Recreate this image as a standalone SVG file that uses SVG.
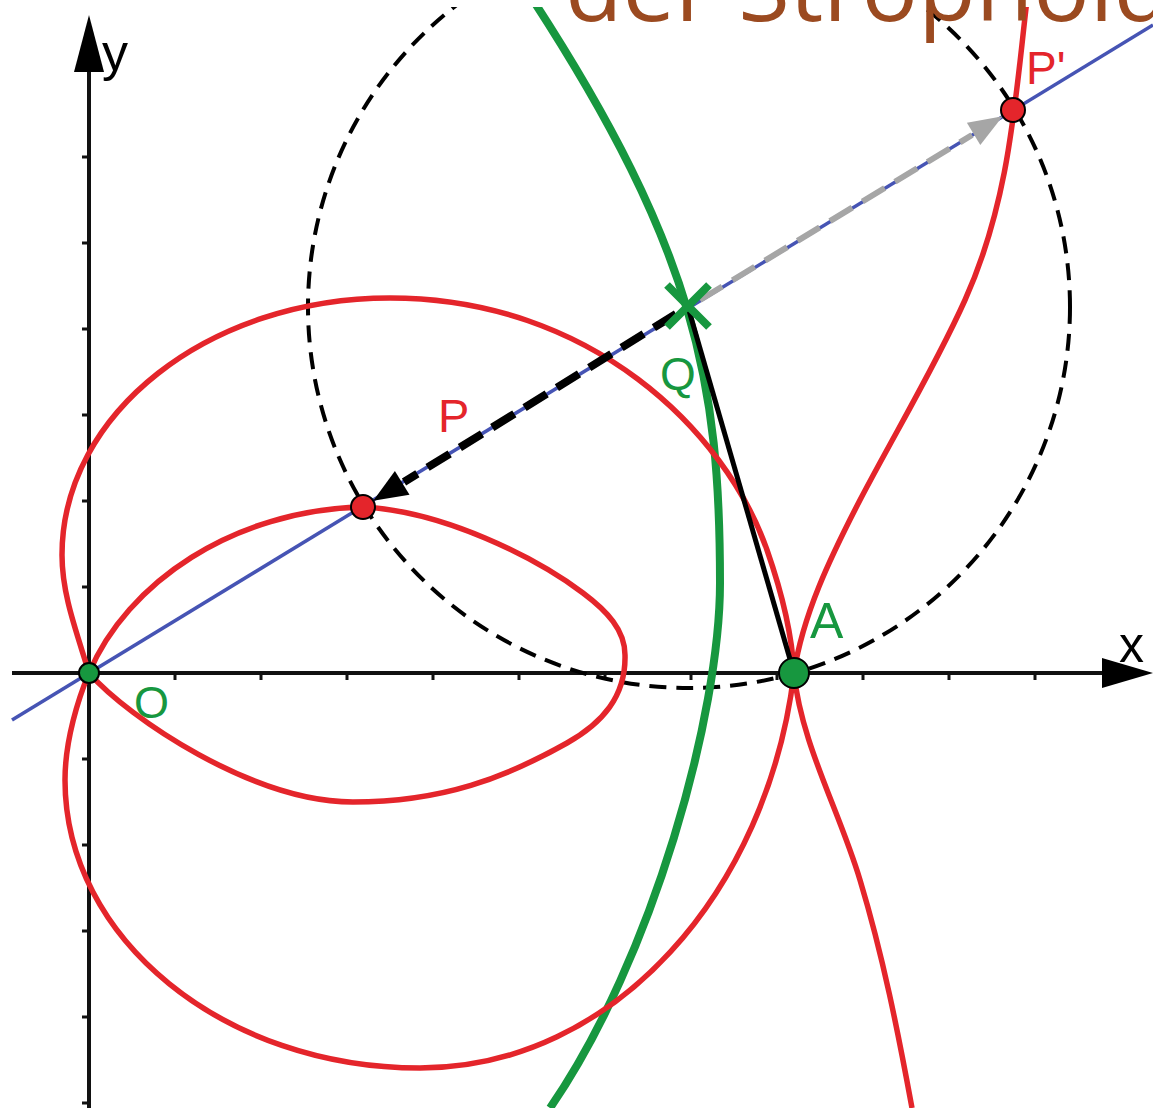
<svg xmlns="http://www.w3.org/2000/svg" width="1153" height="1108" viewBox="0 0 1153 1108">
<style>
.axis{stroke:#111;stroke-width:4;fill:none}
.tick{stroke:#111;stroke-width:3}
.red{stroke:#e4252b;stroke-width:5.5;fill:none;stroke-linejoin:round}
.green{stroke:#17973f;stroke-width:8;fill:none}
.blue{stroke:#4654b4;stroke-width:3.5;fill:none}
.dash{stroke:#000;stroke-width:4;fill:none;stroke-dasharray:17 10}
.lbl{font-family:"Liberation Sans",Arial,sans-serif}
.lg{fill:#17973f}
.lr{fill:#e4252b}
</style>
<rect width="1153" height="1108" fill="#fff"/>
<g id="axes">
<line class="axis" x1="12" y1="673" x2="1105" y2="673"/>
<polygon points="1153,673 1102,658 1102,688" fill="#000"/>
<line class="axis" x1="89" y1="1108" x2="89" y2="68"/>
<polygon points="89,15 74,72 104,72" fill="#000"/>
<path class="tick" d="M175,673v7M261,673v7M347,673v7M433,673v7M519,673v7M605,673v7M691,673v7M777,673v7M863,673v7M949,673v7M1035,673v7M89,157h-7M89,243h-7M89,329h-7M89,415h-7M89,501h-7M89,587h-7M89,759h-7M89,845h-7M89,931h-7M89,1017h-7M89,1103h-7"/>
<text class="lbl" x="102" y="70" font-size="52" fill="#000">y</text>
<text class="lbl" x="1119" y="662" font-size="50" fill="#000">x</text>
</g>
<g id="connectors">
<line class="blue" x1="12" y1="720" x2="1153" y2="25"/>
<circle class="dash" cx="689" cy="307" r="381"/>
<path id="green-curve" class="green" d="M533,0 C695.5,250 720,383 720,583 C720,713 653.5,958 550,1108"/>
<path id="strophoid" class="red" d="M1027,0 C1015,100 1010,200 965,300 C935,367 895,433 860,500 C830,558 802.7,615 794,673 C768,890 615,1068 420,1068 C224,1068 65,939 65,780 C65,740 78.5,698 89,673 C127,583 233,510 363,507 C443,511 535,557 583,593 C607,611 625,630 625,655 C626,697 601.8,723.4 567,743 C506,777.3 443,802 353,802 C253,802 128.6,718 89,673 C77,633 62,595 62,555 C62,413 209,298 390,298 C590,298 725,430 767,550 C781,590 792,633 794,673 C801,743 839,810 860,880 C883,956 898,1032 912,1108"/>
<line x1="688" y1="307" x2="794" y2="673" stroke="#000" stroke-width="5"/>
<line x1="676" y1="314" x2="404" y2="482" stroke="#000" stroke-width="8" stroke-dasharray="26 12"/>
<polygon points="373.2,500.7 409.5,494.8 394.9,471" fill="#000"/>
<line x1="700" y1="300" x2="972" y2="135" stroke="#a6a6a6" stroke-width="6" stroke-dasharray="26 12"/>
<polygon points="1002.7,116.2 980.3,144.9 966.9,122.7" fill="#a6a6a6"/>
</g>
<g id="node-Q">
<path d="M667,285L709,327M709,285L667,327" stroke="#17973f" stroke-width="8"/>
<text class="lbl lg" x="660" y="390" font-size="46">Q</text>
</g>
<g id="node-O">
<circle cx="89" cy="673" r="10" fill="#17973f" stroke="#000" stroke-width="2"/>
<text class="lbl lg" x="134" y="718" font-size="45">O</text>
</g>
<g id="node-A">
<circle cx="794" cy="673" r="15" fill="#17973f" stroke="#000" stroke-width="2"/>
<text class="lbl lg" x="810" y="638" font-size="50">A</text>
</g>
<g id="node-P">
<circle cx="363" cy="507" r="12" fill="#e4252b" stroke="#000" stroke-width="2"/>
<text class="lbl lr" x="438" y="432" font-size="47">P</text>
</g>
<g id="node-P2">
<circle cx="1013" cy="110" r="12" fill="#e4252b" stroke="#000" stroke-width="2"/>
<text class="lbl lr" x="1026" y="84" font-size="46">P'</text>
</g>
<g id="title">
<rect x="0" y="0" width="1153" height="7" fill="#fff"/>
<text x="565" y="21" font-family="'Open Sans',sans-serif" font-size="94" fill="#9b4a20">der Strophoide</text>
</g>
</svg>
